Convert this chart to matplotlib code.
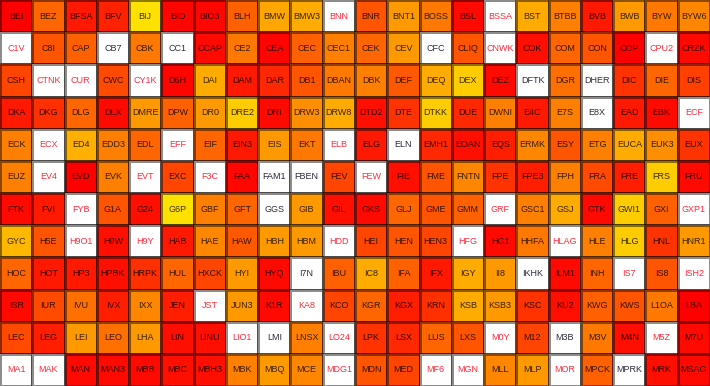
import numpy as np
import matplotlib
matplotlib.use("Agg")
import matplotlib.pyplot as plt

N = np.nan   # white cell, red label
Z = -1.0     # white cell, dark label

labels = [
    ["BEI","BEZ","BFSA","BFV","BIJ","BIO","BIO3","BLH","BMW","BMW3","BNN","BNR","BNT1","BOSS","BSL","BSSA","BST","BTBB","BVB","BWB","BYW","BYW6"],
    ["C1V","C8I","CAP","CB7","CBK","CC1","CCAP","CE2","CEA","CEC","CEC1","CEK","CEV","CFC","CLIQ","CNWK","COK","COM","CON","COP","CPU2","CRZK"],
    ["CSH","CTNK","CUR","CWC","CY1K","D6H","DAI","DAM","DAR","DB1","DBAN","DBK","DEF","DEQ","DEX","DEZ","DFTK","DGR","DHER","DIC","DIE","DIS"],
    ["DKA","DKG","DLG","DLX","DMRE","DPW","DR0","DRE2","DRI","DRW3","DRW8","DTD2","DTE","DTKK","DUE","DWNI","E4C","E7S","E8X","EAD","EBK","ECF"],
    ["ECK","ECX","ED4","EDD3","EDL","EFF","EIF","EIN3","EIS","EKT","ELB","ELG","ELN","EMH1","EOAN","EQS","ERMK","ESY","ETG","EUCA","EUK3","EUX"],
    ["EUZ","EV4","EVD","EVK","EVT","EXC","F3C","FAA","FAM1","FBEN","FEV","FEW","FIE","FME","FNTN","FPE","FPE3","FPH","FRA","FRE","FRS","FRU"],
    ["FTK","FVI","FYB","G1A","G24","G6P","GBF","GFT","GGS","GIB","GIL","GKS","GLJ","GME","GMM","GRF","GSC1","GSJ","GTK","GWI1","GXI","GXP1"],
    ["GYC","H5E","H9O1","H9W","H9Y","HAB","HAE","HAW","HBH","HBM","HDD","HEI","HEN","HEN3","HFG","HG1","HHFA","HLAG","HLE","HLG","HNL","HNR1"],
    ["HOC","HOT","HP3","HPBK","HRPK","HUL","HXCK","HYI","HYQ","I7N","IBU","IC8","IFA","IFX","IGY","II8","IKHK","ILM1","INH","IS7","IS8","ISH2"],
    ["ISR","IUR","IVU","IVX","IXX","JEN","JST","JUN3","K1R","KA8","KCO","KGR","KGX","KRN","KSB","KSB3","KSC","KU2","KWG","KWS","L1OA","LBA"],
    ["LEC","LEG","LEI","LEO","LHA","LIN","LINU","LIO1","LMI","LNSX","LO24","LPK","LSX","LUS","LXS","M0Y","M12","M3B","M3V","M4N","M5Z","M7U"],
    ["MA1","MAK","MAN","MAN3","MBB","MBC","MBH3","MBK","MBQ","MCE","MDG1","MDN","MED","MF6","MGN","MLL","MLP","MOR","MPCK","MPRK","MRK","MSAG"],
]

values = [
    [0.00,0.40,0.10,0.13,0.88,0.02,0.03,0.38,0.65,0.67,N,0.33,0.60,0.47,0.04,N,0.67,0.50,0.10,0.60,0.47,0.53],
    [N,0.33,0.38,Z,0.47,Z,0.04,0.47,0.02,0.38,0.50,0.40,0.60,Z,0.33,N,0.06,0.40,0.33,0.00,N,0.04],
    [0.27,N,N,0.29,N,0.02,0.67,0.10,0.16,0.33,0.47,0.50,0.35,0.67,0.80,0.04,Z,0.44,Z,0.20,0.40,0.25],
    [0.10,0.19,0.40,0.04,0.60,0.38,0.60,0.80,0.04,0.56,0.67,0.06,0.20,0.80,0.16,0.50,0.10,0.50,Z,0.10,0.04,N],
    [0.50,N,0.69,0.50,0.40,N,0.40,0.10,0.60,0.47,N,0.10,Z,0.16,0.06,0.12,0.53,0.33,0.50,0.67,0.56,0.20],
    [0.50,N,0.00,0.50,N,0.27,N,0.03,Z,Z,0.27,N,0.06,0.33,0.53,0.20,0.12,0.50,0.29,0.12,0.80,0.04],
    [0.04,0.10,N,0.33,0.06,0.88,0.50,0.40,Z,0.60,0.06,0.04,0.40,0.33,0.38,N,0.50,0.67,0.04,0.80,0.38,N],
    [0.72,0.33,N,0.06,N,0.10,0.53,0.35,0.60,0.60,N,0.27,0.33,0.27,N,0.04,0.47,N,0.50,0.80,0.20,0.60],
    [0.40,0.10,0.10,0.06,0.19,0.40,0.27,0.60,0.04,Z,0.38,0.67,0.38,0.10,0.67,0.60,Z,0.04,0.40,N,0.33,N],
    [0.04,0.29,0.44,0.12,0.53,0.12,N,0.60,0.04,N,0.27,0.40,0.12,0.19,0.67,0.60,0.20,0.06,0.38,0.33,0.47,0.00],
    [0.29,0.12,0.60,0.44,0.60,0.06,0.06,N,Z,0.50,N,0.20,0.16,0.40,0.33,N,0.27,Z,0.47,0.06,N,0.04],
    [N,N,0.04,0.04,0.04,0.06,0.06,0.50,0.60,0.53,N,0.33,0.27,N,N,0.53,0.60,N,0.38,Z,0.06,0.04],
]

vals = np.array(values, dtype=float)
nrows, ncols = vals.shape

fig = plt.figure(figsize=(7.10, 3.86), dpi=100)
ax = fig.add_axes([0, 0, 1, 1])

cmap = plt.get_cmap("autumn").copy()
cmap.set_bad("white")
masked = np.ma.masked_where(~(vals >= 0), vals)
ax.pcolormesh(np.arange(ncols + 1), np.arange(nrows + 1), masked, cmap=cmap,
              vmin=0, vmax=1, edgecolors=(0, 0, 0, 0.45), linewidth=0.8)

for r in range(nrows):
    for c in range(ncols):
        v = vals[r, c]
        if np.isnan(v):
            col = "#ff2a3c"
        elif v < 0:
            col = "#2b2b3b"
        else:
            col = (0, 0, 0, 0.78)
        ax.text(c + 0.5, r + 0.5, labels[r][c], ha="center", va="center",
                fontsize=6.5, color=col, family=["Liberation Sans", "DejaVu Sans"])

ax.set_xlim(0, ncols)
ax.set_ylim(nrows, 0)
ax.axis("off")
fig.savefig("out.png", dpi=100)
